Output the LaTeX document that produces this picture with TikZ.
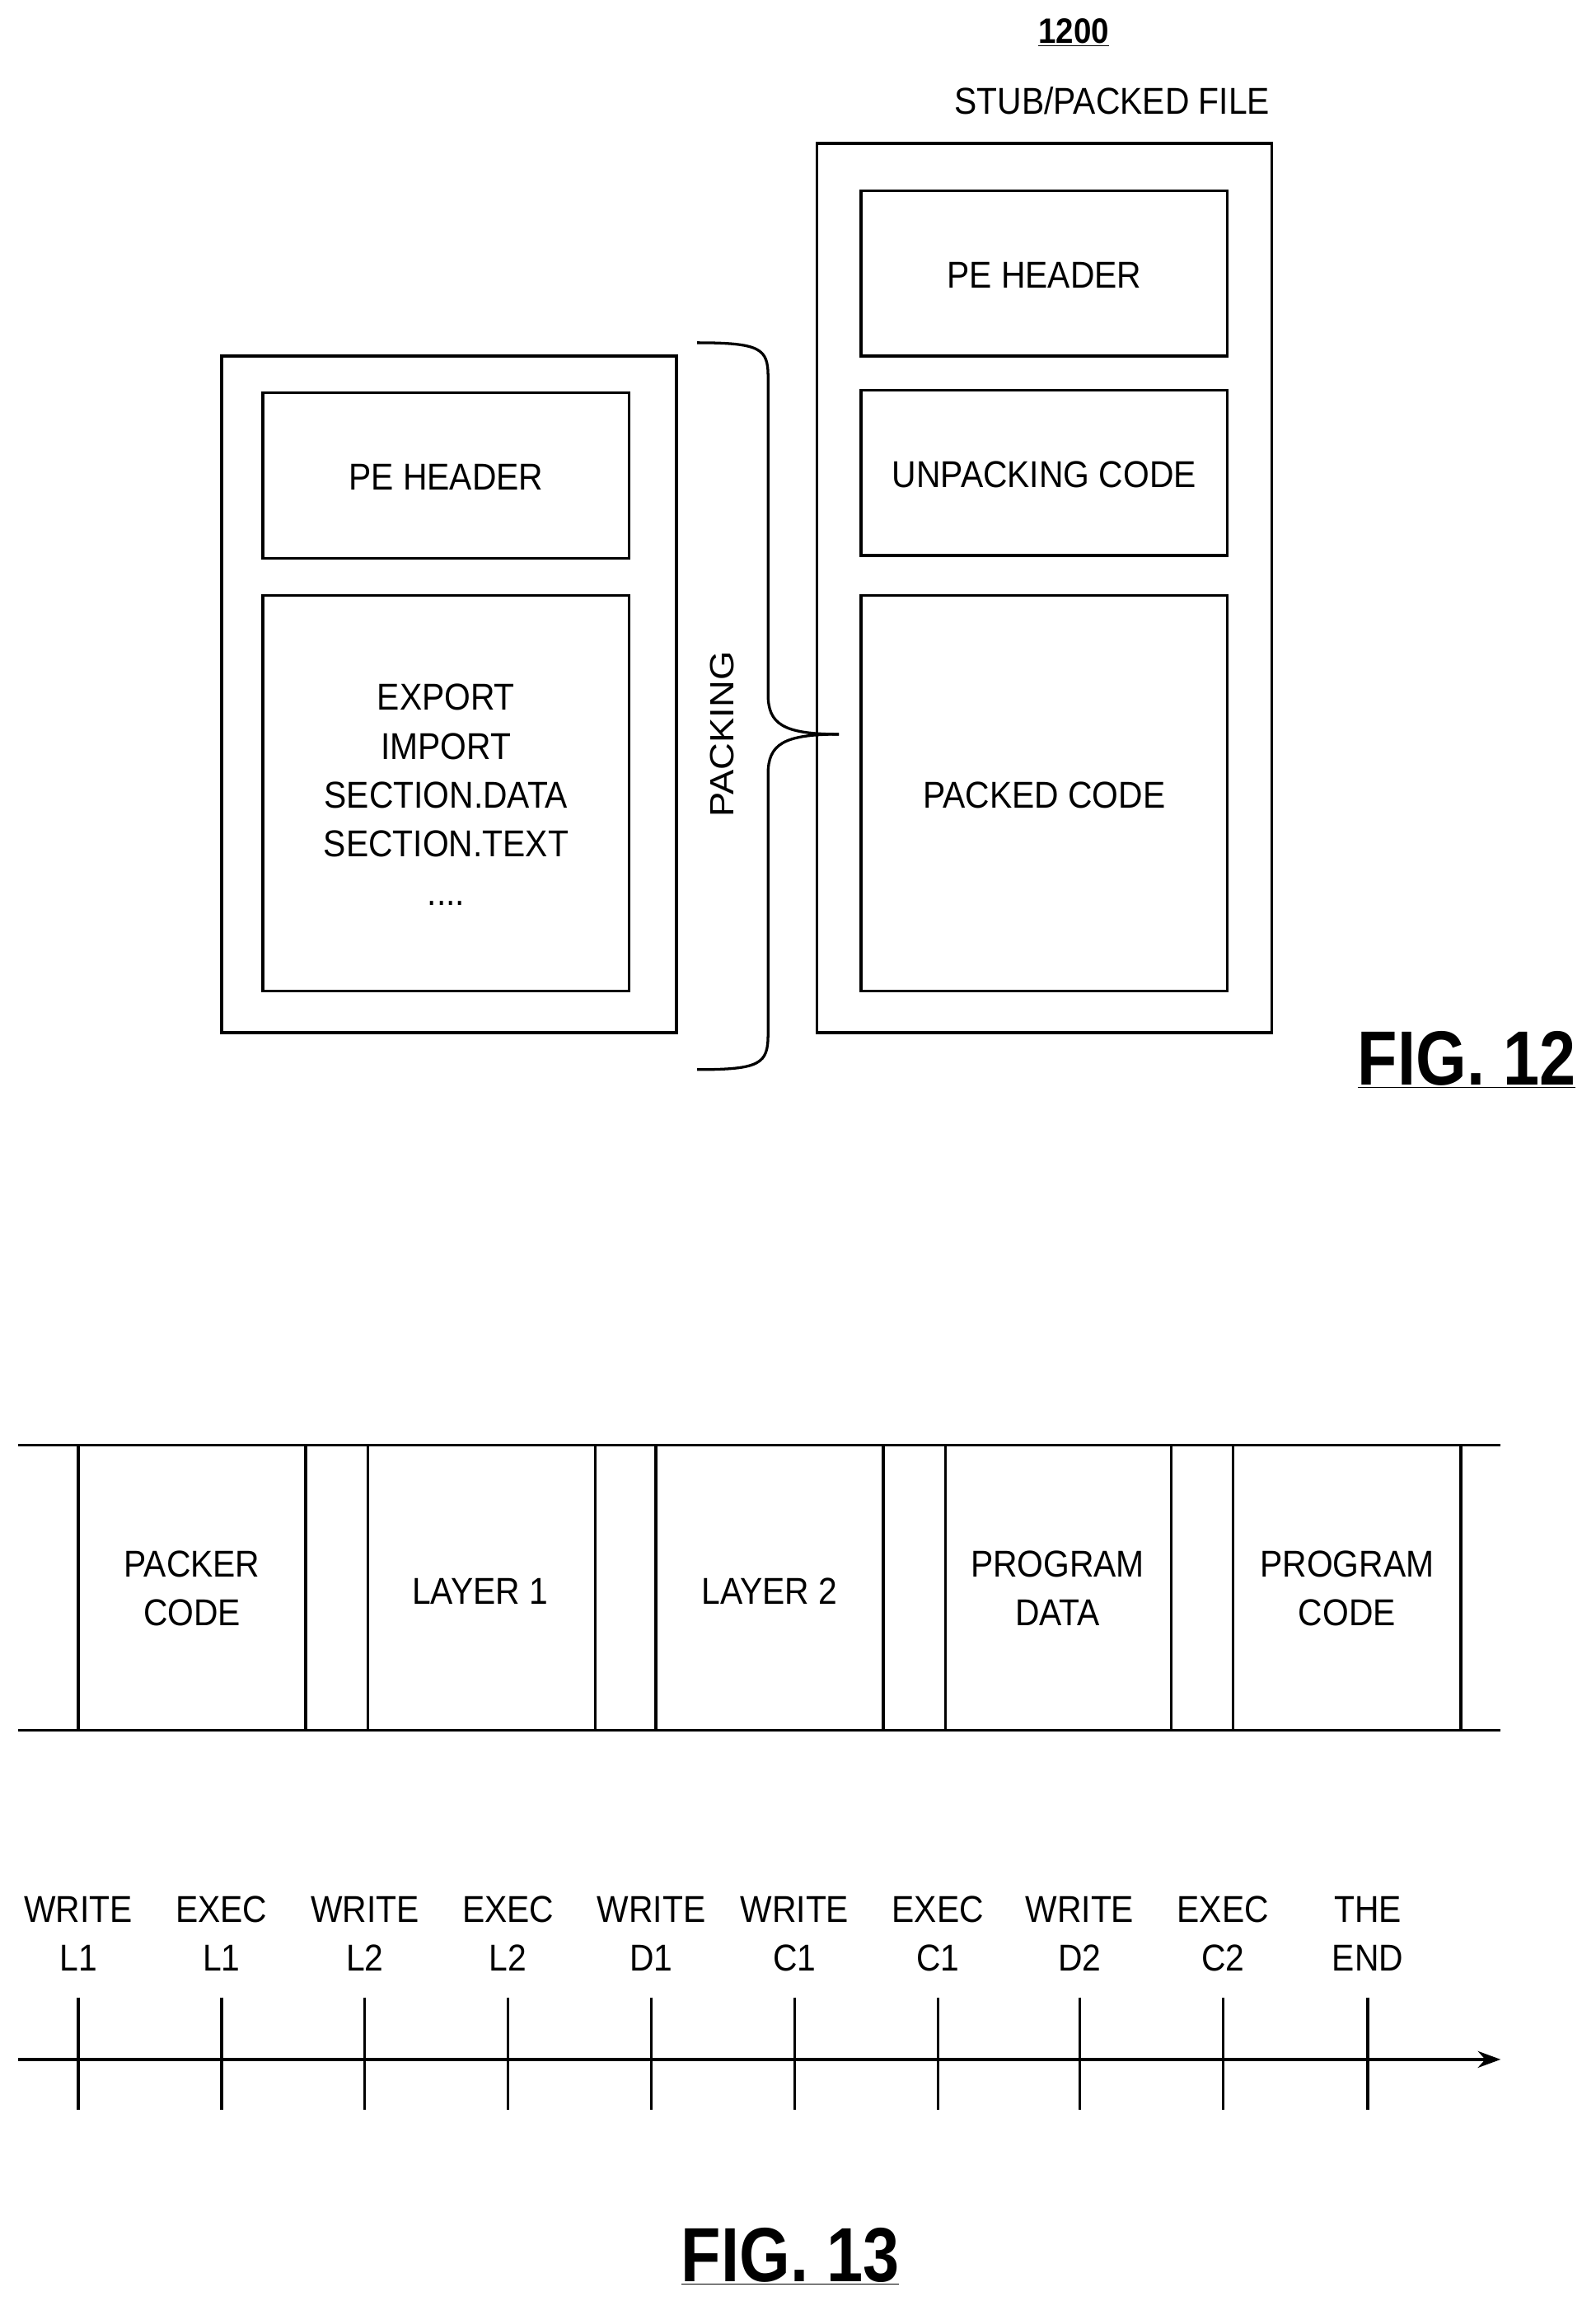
\documentclass[tikz,border=0pt]{standalone}
\usepackage{fontspec}
\setmainfont{Liberation Sans}
\usetikzlibrary{arrows.meta}
\begin{document}
\begin{tikzpicture}[x=0.05cm,y=-0.05cm,line width=2.6pt,
	box/.style={draw,line width=2.6pt},
	lbl/.style={font=\fontsize{36}{47}\selectfont,align=center,xscale=0.9},
	fig/.style={font=\fontsize{74}{80}\selectfont\bfseries,xscale=0.85}]
	\useasboundingbox (0,0) rectangle (1080,1567);
	% FIG. 12
	\node[font=\fontsize{34}{40}\selectfont\bfseries,xscale=0.9] (num) at (727,22) {\underline{1200}};
	\node[lbl] (stub) at (753,68) {STUB/PACKED FILE};
	\draw[box] (553,97) rectangle (861,699);
	\draw[box] (583,129) rectangle (831,241);
	\node[lbl] (rhead) at (707,186) {PE HEADER};
	\draw[box] (583,264) rectangle (831,376);
	\node[lbl] (unpack) at (707,321) {UNPACKING CODE};
	\draw[box] (583,403) rectangle (831,671);
	\node[lbl] (packed) at (707,538) {PACKED CODE};
	\draw[box] (150,241) rectangle (458,699);
	\draw[box] (178,266) rectangle (426,378);
	\node[lbl] (lhead) at (302,323) {PE HEADER};
	\draw[box] (178,403) rectangle (426,671);
	\node[lbl,text depth=0pt] (sect) at (302,538) {EXPORT\\IMPORT\\SECTION.DATA\\SECTION.TEXT\\....};
	% brace
	\draw (472,232) .. controls (515,232) and (520,236) .. (520,255) -- (520,470)
		.. controls (520,490) and (530,497) .. (568,497);
	\draw (472,724) .. controls (515,724) and (520,720) .. (520,700) -- (520,524)
		.. controls (520,504) and (530,497) .. (568,497);
	\node[lbl,rotate=90] (pack) at (489,497) {PACKING};
	\node[fig] (f12) at (993,717) {\underline{FIG. 12}};
	% FIG. 13
	\draw (12,978) -- (1016,978);
	\draw (12,1171) -- (1016,1171);
	\foreach \x in {53,207,249,403,444,598,640,793,835,989}
		\draw (\x,978) -- (\x,1171);
	\node[lbl] (c1) at (130,1075) {PACKER\\CODE};
	\node[lbl] (c2) at (325,1077) {LAYER 1};
	\node[lbl] (c3) at (521,1077) {LAYER 2};
	\node[lbl] (c4) at (716,1075) {PROGRAM\\DATA};
	\node[lbl] (c5) at (912,1075) {PROGRAM\\CODE};
	\coordinate (t0) at (12,1394);
	\coordinate (t1) at (1016,1394);
	\draw[-{Stealth[length=22pt,width=16pt]}] (t0) -- (t1);
	\foreach \x/\a/\b in {53/WRITE/L1,150/EXEC/L1,247/WRITE/L2,344/EXEC/L2,441/WRITE/D1,
		538/WRITE/C1,635/EXEC/C1,731/WRITE/D2,828/EXEC/C2,926/THE/END}{
		\draw (\x,1352) -- (\x,1428);
		\node[lbl] at (\x,1309) {\a\\\b};
	}
	\node[fig] (f13) at (535,1527) {\underline{FIG. 13}};
\end{tikzpicture}
\end{document}
